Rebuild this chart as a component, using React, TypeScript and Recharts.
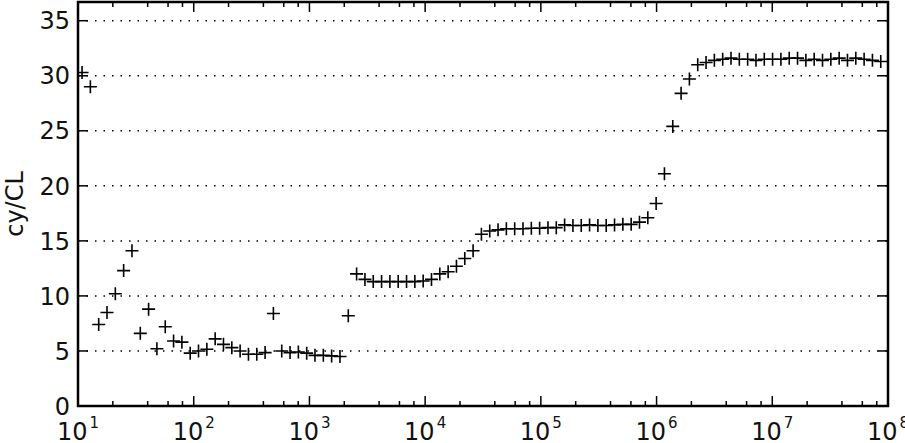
import React from 'react';
import {
  ScatterChart,
  Scatter,
  XAxis,
  YAxis,
  CartesianGrid,
  ReferenceArea,
  ReferenceLine,
} from 'recharts';

// message size (x) and measured cycles per cache line (y)
const sizes = [
  10.84, 12.79, 15.1, 17.81, 21.02, 24.8, 29.27, 34.54, 40.75, 48.09, 56.75, 66.97, 79.03, 93.26,
  110.0, 129.9, 153.2, 180.8, 213.4, 251.8, 297.2, 350.7, 413.8, 488.3, 576.3, 680.0, 802.5, 947.0,
  1117, 1319, 1556, 1836, 2167, 2557, 3018, 3561, 4202, 4959, 5852, 6906, 8147, 9614,
  11346, 13389, 15800, 18645, 22002, 25964, 30640, 36157, 42658, 50339, 59403, 70102, 82723, 97612,
  115190, 135930, 160410, 189290, 223390, 263600, 311080, 367090, 433190, 511200, 603250, 711880, 840070, 991300,
  1169500, 1380200, 1628700, 1922100, 2268200, 2676500, 3158400, 3727200, 4398400, 5190200, 6124000, 7227000, 8528000,
  10060000, 11870000, 14010000, 16530000, 19510000, 23020000, 27170000, 32060000, 37830000, 44650000, 52690000, 62170000, 73370000, 86570000,
];

const cyPerCl = [
  30.3, 29.0, 7.4, 8.5, 10.2, 12.3, 14.1, 6.6, 8.8, 5.2, 7.2, 5.9, 5.8, 4.8,
  5.0, 5.15, 6.1, 5.6, 5.3, 5.0, 4.7, 4.7, 4.85, 8.4, 5.0, 4.85, 4.9, 4.8,
  4.6, 4.6, 4.55, 4.5, 8.2, 12.0, 11.5, 11.3, 11.3, 11.3, 11.3, 11.3, 11.3, 11.35,
  11.5, 12.0, 12.2, 12.7, 13.4, 14.1, 15.6, 15.9, 16.0, 16.1, 16.1, 16.1, 16.15, 16.15,
  16.2, 16.2, 16.45, 16.4, 16.4, 16.45, 16.4, 16.4, 16.45, 16.5, 16.5, 16.7, 17.1, 18.4,
  21.1, 25.4, 28.4, 29.7, 31.0, 31.2, 31.4, 31.5, 31.6, 31.5, 31.5, 31.4, 31.5,
  31.5, 31.5, 31.6, 31.6, 31.4, 31.5, 31.4, 31.5, 31.6, 31.4, 31.6, 31.5, 31.4, 31.3,
];

const xMajorTicks = [10, 100, 1000, 10000, 100000, 1000000, 10000000, 100000000];
const xMinorTicks = [
  20, 40, 60, 80, 200, 400, 600, 800, 2000, 4000, 6000, 8000,
  20000, 40000, 60000, 80000, 200000, 400000, 600000, 800000,
  2000000, 4000000, 6000000, 8000000, 20000000, 40000000, 60000000, 80000000,
];
const yTicks = [0, 5, 10, 15, 20, 25, 30, 35];

const X_MIN = 10;
const X_MAX = 100000000;
const Y_MAX = 36.7;

const data = sizes.map((x, i) => ({ x, y: cyPerCl[i] }));

// tick lengths expressed in axis units (about 10px / 5px on this plot)
const Y_MAJOR_LEN = 0.9;
const Y_MINOR_LEN = 0.45;
const X_TICK_FACTOR = 1.22;

const FONT = '"DejaVu Sans", sans-serif';
const INK = '#000';

const renderBottomTick = ({ x, y, payload }: any) => (
  <text x={x} y={y + 34} textAnchor="middle" fontSize={24} fontFamily={FONT} fill="#111">
    10
    <tspan dx={2} dy={-12} fontSize={15}>{Math.round(Math.log10(payload.value))}</tspan>
  </text>
);

const renderLeftTick = ({ x, y, payload }: any) => (
  <text x={x - 8} y={y + 8.7} textAnchor="end" fontSize={24} fontFamily={FONT} fill="#111">
    {payload.value}
  </text>
);

const Plus = (p: any) => (
  <path
    d={`M${p.cx - 6.5},${p.cy}H${p.cx + 6.5}M${p.cx},${p.cy - 6.5}V${p.cy + 6.5}`}
    stroke={INK}
    strokeWidth={1.6}
    fill="none"
  />
);

const YLabel = (props: any) => {
  const vb = props.viewBox || { x: 0, y: 2, width: 78, height: 404 };
  const cy = vb.y + vb.height / 2;
  const bx = vb.x + 23;
  return (
    <text
      x={bx}
      y={cy}
      transform={`rotate(-90, ${bx}, ${cy})`}
      textAnchor="middle"
      fontSize={24}
      fontFamily={FONT}
      fill="#111"
    >
      cy/CL
    </text>
  );
};

const tickStyle = { stroke: INK, strokeWidth: 1.5 };

export default function App() {
  return (
    <div style={{ position: 'absolute', left: 0, top: 0, background: '#fff' }}>
      <ScatterChart width={905} height={443} margin={{ top: 2, right: 17, bottom: 0, left: 0 }}>
        <CartesianGrid vertical={false} stroke={INK} strokeWidth={1.5} strokeDasharray="1.5 7" />
        <XAxis
          dataKey="x"
          type="number"
          scale="log"
          domain={[X_MIN, X_MAX]}
          allowDataOverflow
          ticks={xMajorTicks}
          interval={0}
          height={37}
          tickSize={0}
          tickMargin={0}
          tickLine={false}
          axisLine={false}
          tick={renderBottomTick}
        />
        <YAxis
          dataKey="y"
          type="number"
          domain={[0, Y_MAX]}
          allowDataOverflow
          ticks={yTicks}
          interval={0}
          width={78}
          tickSize={0}
          tickMargin={0}
          tickLine={false}
          axisLine={false}
          tick={renderLeftTick}
          label={{ content: YLabel }}
        />

        {xMajorTicks.map((v) => (
          <ReferenceLine key={`xb${v}`} segment={[{ x: v, y: 0 }, { x: v, y: Y_MAJOR_LEN }]} {...tickStyle} ifOverflow="visible" />
        ))}
        {xMajorTicks.map((v) => (
          <ReferenceLine key={`xt${v}`} segment={[{ x: v, y: Y_MAX }, { x: v, y: Y_MAX - Y_MAJOR_LEN }]} {...tickStyle} ifOverflow="visible" />
        ))}
        {xMinorTicks.map((v) => (
          <ReferenceLine key={`mb${v}`} segment={[{ x: v, y: 0 }, { x: v, y: Y_MINOR_LEN }]} {...tickStyle} ifOverflow="visible" />
        ))}
        {xMinorTicks.map((v) => (
          <ReferenceLine key={`mt${v}`} segment={[{ x: v, y: Y_MAX }, { x: v, y: Y_MAX - Y_MINOR_LEN }]} {...tickStyle} ifOverflow="visible" />
        ))}
        {yTicks.map((v) => (
          <ReferenceLine key={`yl${v}`} segment={[{ x: X_MIN, y: v }, { x: X_MIN * X_TICK_FACTOR, y: v }]} {...tickStyle} ifOverflow="visible" />
        ))}
        {yTicks.map((v) => (
          <ReferenceLine key={`yr${v}`} segment={[{ x: X_MAX, y: v }, { x: X_MAX / X_TICK_FACTOR, y: v }]} {...tickStyle} ifOverflow="visible" />
        ))}

        <Scatter data={data} shape={Plus} isAnimationActive={false} />

        <ReferenceArea
          x1={X_MIN}
          x2={X_MAX}
          y1={0}
          y2={Y_MAX}
          fill="none"
          fillOpacity={0}
          stroke={INK}
          strokeWidth={2.5}
          ifOverflow="visible"
        />
      </ScatterChart>
    </div>
  );
}
